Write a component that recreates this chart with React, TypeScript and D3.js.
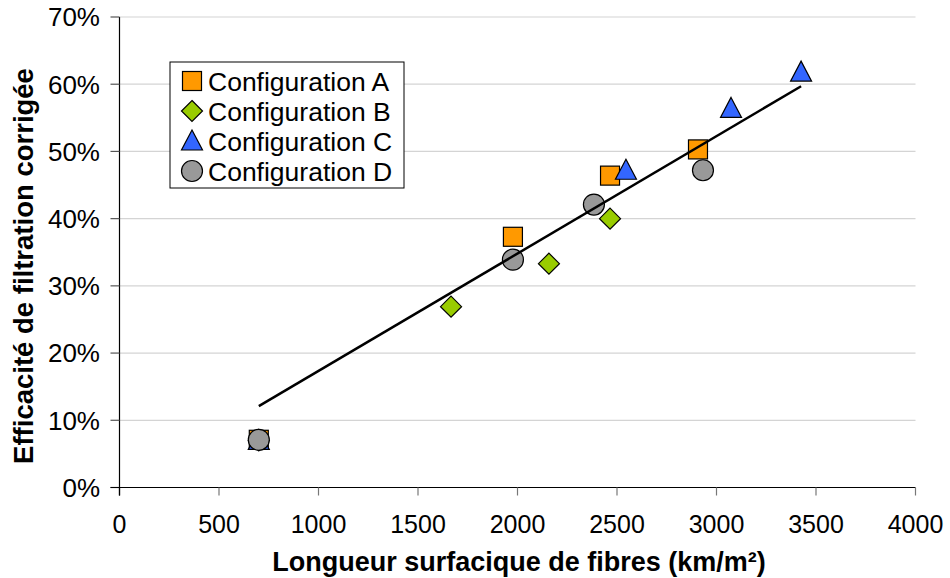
import React from "react";
import * as d3 from "d3";

const xTicks = [0, 500, 1000, 1500, 2000, 2500, 3000, 3500, 4000];
const yTicks = [0, 0.1, 0.2, 0.3, 0.4, 0.5, 0.6, 0.7];

const seriesNames = ["Configuration A", "Configuration B", "Configuration C", "Configuration D"];
const seriesShapes = ["square", "diamond", "triangle", "circle"];
const seriesColors = ["#FF9900", "#99CC00", "#3366FF", "#999999"];

const configA = [
  { x: 700, y: 0.071 },
  { x: 1977, y: 0.373 },
  { x: 2465, y: 0.464 },
  { x: 2907, y: 0.503 },
];
const configB = [
  { x: 700, y: 0.07 },
  { x: 1666, y: 0.269 },
  { x: 2158, y: 0.333 },
  { x: 2465, y: 0.4 },
];
const configC = [
  { x: 700, y: 0.07 },
  { x: 2545, y: 0.472 },
  { x: 3073, y: 0.564 },
  { x: 3425, y: 0.618 },
];
const configD = [
  { x: 700, y: 0.071 },
  { x: 1977, y: 0.339 },
  { x: 2384, y: 0.421 },
  { x: 2932, y: 0.472 },
];
const allSeries = [configA, configB, configC, configD];

const trendLine = [
  { x: 700, y: 0.121 },
  { x: 3425, y: 0.597 },
];

const W = 950;
const H = 578;
const plot = { left: 119.5, right: 915.5, top: 17, bottom: 487.5 };

const xScale = d3.scaleLinear().domain([0, 4000]).range([plot.left, plot.right]);
const yScale = d3.scaleLinear().domain([0, 0.7]).range([plot.bottom, plot.top]);

const FONT = "Arial, 'Liberation Sans', sans-serif";

function Marker({ shape, color, cx, cy }: { shape: string; color: string; cx: number; cy: number }) {
  const st = { fill: color, stroke: "#000", strokeWidth: 1.2 };
  if (shape === "square") {
    const s = 19;
    return <rect x={cx - s / 2} y={cy - s / 2} width={s} height={s} {...st} />;
  }
  if (shape === "diamond") {
    const r = 10.5;
    return <path d={`M${cx},${cy - r}L${cx + r},${cy}L${cx},${cy + r}L${cx - r},${cy}Z`} {...st} />;
  }
  if (shape === "triangle") {
    const hw = 10.5;
    return <path d={`M${cx},${cy - 11}L${cx + hw},${cy + 9}L${cx - hw},${cy + 9}Z`} {...st} />;
  }
  return <circle cx={cx} cy={cy} r={10.5} {...st} />;
}

export default function App() {
  const line = d3
    .line<{ x: number; y: number }>()
    .x((d) => xScale(d.x))
    .y((d) => yScale(d.y));
  const pct = d3.format(".0%");

  const legend = { x: 170, y: 62, w: 234, h: 126 };
  const rowY = [81, 111, 141, 171];

  return (
    <svg
      width={W}
      height={H}
      style={{ position: "absolute", left: 0, top: 0, background: "#fff" }}
      fontFamily={FONT}
    >
      {/* gridlines */}
      {yTicks.slice(1).map((t) => (
        <line
          key={"g" + t}
          x1={plot.left}
          x2={plot.right}
          y1={yScale(t)}
          y2={yScale(t)}
          stroke="#d4d4d4"
          strokeWidth={1.2}
        />
      ))}
      {/* y axis */}
      <line x1={plot.left} x2={plot.left} y1={plot.top} y2={plot.bottom + 8} stroke="#000" strokeWidth={1.2} />
      {yTicks.map((t) => (
        <g key={"y" + t}>
          <line x1={plot.left - 9} x2={plot.left} y1={yScale(t)} y2={yScale(t)} stroke="#555" strokeWidth={1.2} />
          <text x={100} y={yScale(t)} dy="0.36em" textAnchor="end" fontSize={26} fill="#000">
            {pct(t)}
          </text>
        </g>
      ))}
      {/* x axis */}
      <line x1={plot.left - 9} x2={plot.right} y1={plot.bottom} y2={plot.bottom} stroke="#000" strokeWidth={1.2} />
      {xTicks.map((t) => (
        <g key={"x" + t}>
          <line x1={xScale(t)} x2={xScale(t)} y1={plot.bottom} y2={plot.bottom + 8} stroke={t === 0 ? "#000" : "#777"} strokeWidth={1.2} />
          <text x={xScale(t)} y={533} textAnchor="middle" fontSize={25} fill="#000">
            {t}
          </text>
        </g>
      ))}
      {/* axis titles */}
      <text x={519} y={571} textAnchor="middle" fontSize={27} fontWeight="bold">
        Longueur surfacique de fibres (km/m²)
      </text>
      <text
        transform={`translate(33,266) rotate(-90)`}
        textAnchor="middle"
        fontSize={27.5}
        fontWeight="bold"
      >
        Efficacité de filtration corrigée
      </text>
      {/* points */}
      {allSeries.map((s, i) =>
        s.map((d, j) => (
          <Marker key={i + "-" + j} shape={seriesShapes[i]} color={seriesColors[i]} cx={xScale(d.x)} cy={yScale(d.y)} />
        ))
      )}
      {/* trend line */}
      <path d={line(trendLine) || ""} fill="none" stroke="#000" strokeWidth={2.5} />
      {/* legend */}
      <rect x={legend.x} y={legend.y} width={legend.w} height={legend.h} fill="#fff" stroke="#000" strokeWidth={1} />
      {seriesNames.map((n, i) => (
        <g key={n}>
          <Marker shape={seriesShapes[i]} color={seriesColors[i]} cx={192} cy={rowY[i]} />
          <text x={208} y={rowY[i]} dy="0.36em" fontSize={26.5} fill="#000">
            {n}
          </text>
        </g>
      ))}
    </svg>
  );
}
